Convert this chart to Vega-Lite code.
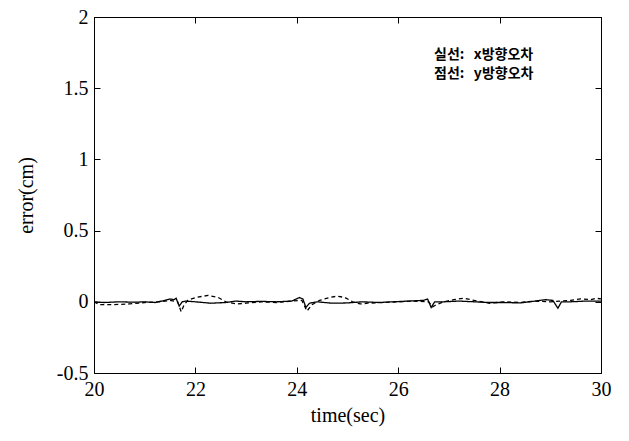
{
  "$schema": "https://vega.github.io/schema/vega-lite/v6.json",
  "width": 507,
  "height": 356,
  "autosize": {"type": "none"},
  "padding": {"left": 94, "top": 17, "right": 28, "bottom": 68},
  "background": "white",
  "config": {
    "font": "Liberation Serif",
    "view": {"stroke": "black", "strokeWidth": 1},
    "axis": {"grid": false, "domainColor": "black", "tickColor": "black", "labelColor": "black", "titleColor": "black", "labelFont": "Liberation Serif, serif", "titleFont": "Liberation Serif, serif", "labelFontSize": 20, "titleFontSize": 20, "titleFontWeight": "normal", "labelFlush": false, "labelOverlap": false},
    "style": {"guide-label": {"font": "Liberation Serif, serif"}, "guide-title": {"font": "Liberation Serif, serif"}}
  },
  "data": {"values": [
    {"t": 20.0, "err": 0.0, "series": "실선:  x방향오차"},
    {"t": 20.2, "err": -0.005, "series": "실선:  x방향오차"},
    {"t": 20.5, "err": 0.0, "series": "실선:  x방향오차"},
    {"t": 20.8, "err": -0.003, "series": "실선:  x방향오차"},
    {"t": 21.0, "err": 0.0, "series": "실선:  x방향오차"},
    {"t": 21.2, "err": -0.005, "series": "실선:  x방향오차"},
    {"t": 21.4, "err": 0.01, "series": "실선:  x방향오차"},
    {"t": 21.5, "err": 0.02, "series": "실선:  x방향오차"},
    {"t": 21.58, "err": 0.015, "series": "실선:  x방향오차"},
    {"t": 21.62, "err": 0.025, "series": "실선:  x방향오차"},
    {"t": 21.68, "err": -0.03, "series": "실선:  x방향오차"},
    {"t": 21.74, "err": 0.0, "series": "실선:  x방향오차"},
    {"t": 21.8, "err": 0.005, "series": "실선:  x방향오차"},
    {"t": 22.0, "err": 0.0, "series": "실선:  x방향오차"},
    {"t": 22.3, "err": -0.01, "series": "실선:  x방향오차"},
    {"t": 22.6, "err": -0.005, "series": "실선:  x방향오차"},
    {"t": 22.8, "err": 0.005, "series": "실선:  x방향오차"},
    {"t": 23.0, "err": 0.0, "series": "실선:  x방향오차"},
    {"t": 23.3, "err": 0.003, "series": "실선:  x방향오차"},
    {"t": 23.6, "err": 0.0, "series": "실선:  x방향오차"},
    {"t": 23.9, "err": 0.005, "series": "실선:  x방향오차"},
    {"t": 24.05, "err": 0.03, "series": "실선:  x방향오차"},
    {"t": 24.12, "err": 0.02, "series": "실선:  x방향오차"},
    {"t": 24.18, "err": -0.04, "series": "실선:  x방향오차"},
    {"t": 24.25, "err": -0.01, "series": "실선:  x방향오차"},
    {"t": 24.4, "err": 0.0, "series": "실선:  x방향오차"},
    {"t": 24.7, "err": -0.01, "series": "실선:  x방향오차"},
    {"t": 25.0, "err": -0.008, "series": "실선:  x방향오차"},
    {"t": 25.3, "err": 0.0, "series": "실선:  x방향오차"},
    {"t": 25.6, "err": -0.005, "series": "실선:  x방향오차"},
    {"t": 25.9, "err": 0.0, "series": "실선:  x방향오차"},
    {"t": 26.2, "err": 0.005, "series": "실선:  x방향오차"},
    {"t": 26.5, "err": 0.01, "series": "실선:  x방향오차"},
    {"t": 26.58, "err": 0.02, "series": "실선:  x방향오차"},
    {"t": 26.65, "err": -0.04, "series": "실선:  x방향오차"},
    {"t": 26.72, "err": 0.0, "series": "실선:  x방향오차"},
    {"t": 26.9, "err": 0.0, "series": "실선:  x방향오차"},
    {"t": 27.2, "err": 0.005, "series": "실선:  x방향오차"},
    {"t": 27.5, "err": 0.0, "series": "실선:  x방향오차"},
    {"t": 27.8, "err": -0.005, "series": "실선:  x방향오차"},
    {"t": 28.1, "err": -0.005, "series": "실선:  x방향오차"},
    {"t": 28.4, "err": -0.008, "series": "실선:  x방향오차"},
    {"t": 28.7, "err": 0.005, "series": "실선:  x방향오차"},
    {"t": 28.9, "err": 0.015, "series": "실선:  x방향오차"},
    {"t": 29.05, "err": 0.01, "series": "실선:  x방향오차"},
    {"t": 29.15, "err": -0.045, "series": "실선:  x방향오차"},
    {"t": 29.22, "err": 0.0, "series": "실선:  x방향오차"},
    {"t": 29.4, "err": 0.0, "series": "실선:  x방향오차"},
    {"t": 29.7, "err": 0.005, "series": "실선:  x방향오차"},
    {"t": 30.0, "err": 0.005, "series": "실선:  x방향오차"},
    {"t": 20.0, "err": 0.0, "series": "점선:  y방향오차"},
    {"t": 20.1, "err": -0.02, "series": "점선:  y방향오차"},
    {"t": 20.4, "err": -0.02, "series": "점선:  y방향오차"},
    {"t": 20.7, "err": -0.015, "series": "점선:  y방향오차"},
    {"t": 21.0, "err": -0.005, "series": "점선:  y방향오차"},
    {"t": 21.3, "err": 0.0, "series": "점선:  y방향오차"},
    {"t": 21.5, "err": 0.01, "series": "점선:  y방향오차"},
    {"t": 21.65, "err": 0.0, "series": "점선:  y방향오차"},
    {"t": 21.72, "err": -0.07, "series": "점선:  y방향오차"},
    {"t": 21.78, "err": -0.02, "series": "점선:  y방향오차"},
    {"t": 21.85, "err": 0.01, "series": "점선:  y방향오차"},
    {"t": 22.0, "err": 0.03, "series": "점선:  y방향오차"},
    {"t": 22.25, "err": 0.045, "series": "점선:  y방향오차"},
    {"t": 22.45, "err": 0.03, "series": "점선:  y방향오차"},
    {"t": 22.6, "err": 0.0, "series": "점선:  y방향오차"},
    {"t": 22.8, "err": -0.015, "series": "점선:  y방향오차"},
    {"t": 23.0, "err": -0.01, "series": "점선:  y방향오차"},
    {"t": 23.3, "err": 0.0, "series": "점선:  y방향오차"},
    {"t": 23.6, "err": -0.005, "series": "점선:  y방향오차"},
    {"t": 23.9, "err": 0.005, "series": "점선:  y방향오차"},
    {"t": 24.1, "err": 0.01, "series": "점선:  y방향오차"},
    {"t": 24.2, "err": -0.065, "series": "점선:  y방향오차"},
    {"t": 24.3, "err": -0.02, "series": "점선:  y방향오차"},
    {"t": 24.45, "err": 0.01, "series": "점선:  y방향오차"},
    {"t": 24.65, "err": 0.03, "series": "점선:  y방향오차"},
    {"t": 24.8, "err": 0.04, "series": "점선:  y방향오차"},
    {"t": 24.95, "err": 0.03, "series": "점선:  y방향오차"},
    {"t": 25.1, "err": 0.0, "series": "점선:  y방향오차"},
    {"t": 25.25, "err": -0.015, "series": "점선:  y방향오차"},
    {"t": 25.4, "err": -0.01, "series": "점선:  y방향오차"},
    {"t": 25.7, "err": -0.005, "series": "점선:  y방향오차"},
    {"t": 26.0, "err": 0.0, "series": "점선:  y방향오차"},
    {"t": 26.3, "err": 0.005, "series": "점선:  y방향오차"},
    {"t": 26.6, "err": 0.0, "series": "점선:  y방향오차"},
    {"t": 26.68, "err": -0.035, "series": "점선:  y방향오차"},
    {"t": 26.75, "err": -0.02, "series": "점선:  y방향오차"},
    {"t": 26.9, "err": 0.0, "series": "점선:  y방향오차"},
    {"t": 27.1, "err": 0.015, "series": "점선:  y방향오차"},
    {"t": 27.3, "err": 0.025, "series": "점선:  y방향오차"},
    {"t": 27.5, "err": 0.01, "series": "점선:  y방향오차"},
    {"t": 27.8, "err": -0.01, "series": "점선:  y방향오차"},
    {"t": 28.1, "err": 0.0, "series": "점선:  y방향오차"},
    {"t": 28.4, "err": -0.005, "series": "점선:  y방향오차"},
    {"t": 28.7, "err": 0.005, "series": "점선:  y방향오차"},
    {"t": 29.0, "err": 0.0, "series": "점선:  y방향오차"},
    {"t": 29.2, "err": 0.005, "series": "점선:  y방향오차"},
    {"t": 29.4, "err": 0.01, "series": "점선:  y방향오차"},
    {"t": 29.6, "err": 0.02, "series": "점선:  y방향오차"},
    {"t": 29.8, "err": 0.015, "series": "점선:  y방향오차"},
    {"t": 29.9, "err": 0.025, "series": "점선:  y방향오차"},
    {"t": 30.0, "err": 0.02, "series": "점선:  y방향오차"}
  ]},
  "layer": [
    {
      "mark": {"type": "line", "color": "black", "strokeWidth": 1.3, "clip": true},
      "encoding": {
        "x": {"field": "t", "type": "quantitative", "scale": {"domain": [20, 30], "nice": false, "zero": false},
              "axis": {"orient": "bottom", "title": "time(sec)", "values": [20, 22, 24, 26, 28, 30], "labelExpr": "toString(datum.value)", "tickSize": -6, "labelPadding": 12, "titlePadding": 6, "labelFont": "Liberation Serif, serif", "labelFlush": false}},
        "y": {"field": "err", "type": "quantitative", "scale": {"domain": [-0.5, 2], "nice": false, "zero": false},
              "axis": {"orient": "left", "title": "error(cm)", "values": [-0.5, 0, 0.5, 1, 1.5, 2], "labelExpr": "toString(datum.value)", "tickSize": -6, "labelPadding": 12, "titlePadding": 20, "labelFont": "Liberation Serif, serif", "labelFlush": false}},
        "strokeDash": {"field": "series", "type": "nominal", "sort": ["실선:  x방향오차", "점선:  y방향오차"],
                       "scale": {"range": [[1, 0], [4, 3]]},
                       "legend": {"orient": "none", "legendX": 326, "legendY": 31, "title": null, "symbolSize": 0, "symbolStrokeWidth": 0, "symbolOpacity": 0, "labelFont": "Noto Sans CJK KR", "labelFontWeight": "bold", "labelFontSize": 14, "labelColor": "black", "rowPadding": 5, "labelOffset": 0,
                                  "labelExpr": "replace(datum.label, ':  ', ':\u00a0\u00a0\u00a0')"}}
      }
    },
    {
      "mark": {"type": "rule", "opacity": 0},
      "encoding": {
        "x": {"field": "t", "type": "quantitative", "axis": {"orient": "top", "title": null, "labels": false, "values": [20, 22, 24, 26, 28, 30], "tickSize": -6}},
        "y": {"field": "err", "type": "quantitative", "axis": {"orient": "right", "title": null, "labels": false, "values": [-0.5, 0, 0.5, 1, 1.5, 2], "tickSize": -6}}
      }
    }
  ],
  "resolve": {"axis": {"x": "independent", "y": "independent"}}
}
